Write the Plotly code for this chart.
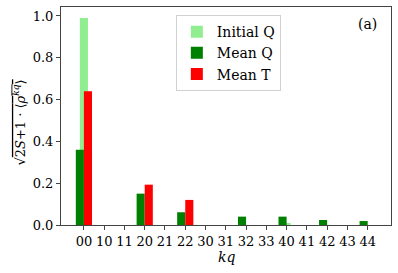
import plotly.graph_objects as go

categories = ["00", "10", "11", "20", "21", "22", "30", "31", "32", "33", "40", "41", "42", "43", "44"]
initial_q = [0.99, 0, 0, 0, 0, 0, 0, 0, 0, 0, 0.005, 0, 0, 0, 0]
mean_q = [0.36, 0, 0, 0.15, 0, 0.061, 0, 0, 0.04, 0, 0.04, 0, 0.024, 0, 0.019]
mean_t = [0.64, 0, 0, 0.193, 0, 0.12, 0, 0, 0, 0, 0, 0, 0, 0, 0]

xs = list(range(len(categories)))
FONT = "DejaVu Serif"

fig = go.Figure()
fig.add_trace(go.Bar(x=xs, y=initial_q, name="Initial Q", marker_color="#90EE90",
                     width=0.4, offset=-0.2, marker_line_width=0))
fig.add_trace(go.Bar(x=xs, y=mean_q, name="Mean Q", marker_color="#008000",
                     width=0.4, offset=-0.4, marker_line_width=0))
fig.add_trace(go.Bar(x=xs, y=mean_t, name="Mean T", marker_color="#FF0000",
                     width=0.4, offset=0.0, marker_line_width=0))

fig.update_layout(
    width=398, height=273,
    margin=dict(l=61, r=7, t=7, b=48),
    barmode="overlay",
    plot_bgcolor="white", paper_bgcolor="white",
    font=dict(family=FONT, size=14, color="black"),
    showlegend=True,
    legend=dict(x=0.348, y=0.963, xanchor="left", yanchor="top",
                bgcolor="white", bordercolor="#d0d0d0", borderwidth=1,
                font=dict(family=FONT, size=14), tracegroupgap=2,
                itemsizing="constant"),
    xaxis=dict(range=[-1.13, 15.15], tickvals=xs, ticktext=categories,
               showgrid=False, zeroline=False, showline=True, linecolor="#444",
               linewidth=1, mirror=True, ticks="outside", ticklen=4, tickcolor="#444",
               tickfont=dict(family=FONT, size=13), automargin=False),
    yaxis=dict(range=[0, 1.043], tickvals=[0, 0.2, 0.4, 0.6, 0.8, 1.0],
               ticktext=["0.0", "0.2", "0.4", "0.6", "0.8", "1.0"],
               showgrid=False, zeroline=False, showline=True, linecolor="#444",
               linewidth=1, mirror=True, ticks="outside", ticklen=4, tickcolor="#444",
               tickfont=dict(family=FONT, size=13), automargin=False),
    annotations=[
        dict(text="(a)", xref="paper", yref="paper", x=0.929, y=0.922,
             xanchor="center", yanchor="middle",
             showarrow=False, font=dict(family=FONT, size=14)),
        dict(text="<i>kq</i>", xref="paper", yref="paper", x=0.5, y=0, yshift=-32,
             xanchor="center", yanchor="middle",
             showarrow=False, font=dict(family=FONT, size=14)),
        dict(text="√<span style=\"text-decoration:overline\">2<i>S</i>+1 · ⟨<i>ρ</i><sup><i>kq</i></sup>⟩</span>",
             xref="paper", yref="paper", x=0, y=0.47, xshift=-42, textangle=-90,
             xanchor="center", yanchor="middle",
             showarrow=False, font=dict(family=FONT, size=13)),
    ],
)

fig.write_html("out.html", config={"displayModeBar": False},
               post_script="document.body.style.margin='0px';")
